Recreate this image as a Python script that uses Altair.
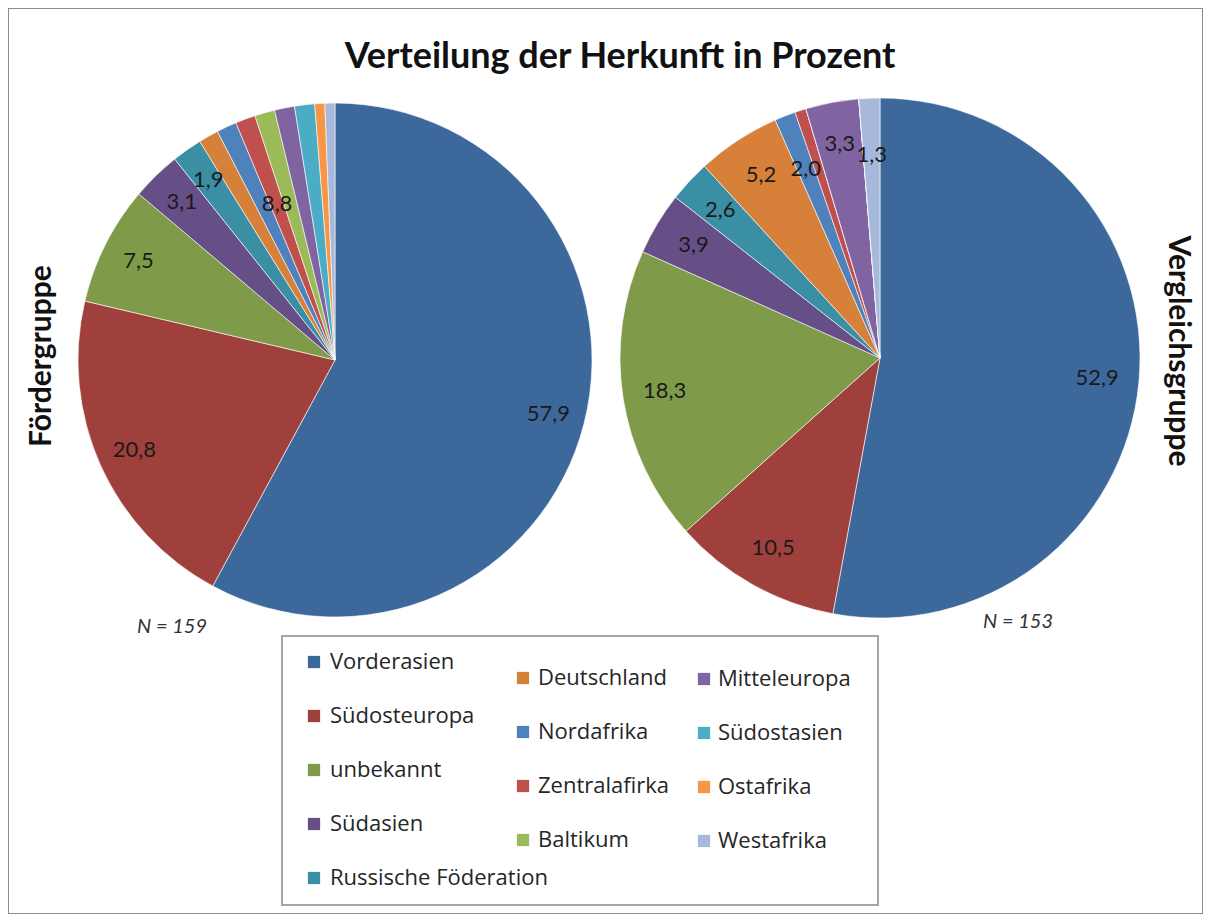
import altair as alt
import pandas as pd

# ---------------- data ----------------
categories = [
    "Vorderasien", "Südosteuropa", "unbekannt", "Südasien", "Russische Föderation",
    "Deutschland", "Nordafrika", "Zentralafirka", "Baltikum", "Mitteleuropa",
    "Südostasien", "Ostafrika", "Westafrika",
]
colors = [
    "#3D689B", "#A0403D", "#7F9A48", "#664F86", "#3A8FA5",
    "#D6803A", "#4F81BD", "#C0504D", "#9BBB59", "#8064A2",
    "#4BACC6", "#F79646", "#A7B9DA",
]

foerder_values = [57.9, 20.8, 7.5, 3.1, 1.9, 1.26, 1.26, 1.26, 1.26, 1.26, 1.26, 0.63, 0.63]
foerder_labels = ["57,9", "20,8", "7,5", "3,1", "1,9", "", "", "", "", "", "", "", ""]
foerder_inner_labels = ["", "", "", "", "", "", "", "8,8", "", "", "", "", ""]

vergleich_values = [52.9, 10.5, 18.3, 3.9, 2.6, 5.2, 1.3, 0.7, 0.0, 3.3, 0.0, 0.0, 1.3]
vergleich_labels = ["52,9", "10,5", "18,3", "3,9", "2,6", "5,2", "", "", "", "3,3", "", "", ""]
vergleich_inner_labels = ["", "", "", "", "", "", "2,0", "", "", "", "", "", "1,3"]

title_text = "Verteilung der Herkunft in Prozent"
group_names = ["Fördergruppe", "Vergleichsgruppe"]
n_texts = ["N = 159", "N = 153"]
legend_columns = [5, 4, 4]  # number of legend entries per column

FONT = "Lato"
LEG_FONT = "Open Sans"
W, H = 1195, 906

color_scale = alt.Scale(domain=categories, range=colors)


def pie(values, labels, inner_labels, cx, cy, r, r_label, r_inner):
    df = pd.DataFrame({
        "Herkunft": categories,
        "Wert": values,
        "Label": labels,
        "Inner": inner_labels,
        "idx": list(range(len(categories))),
    })
    base = alt.Chart(df).encode(
        theta=alt.Theta("Wert:Q", stack="normalize"),
        order=alt.Order("idx:Q", sort="ascending"),
        x=alt.value(cx),
        y=alt.value(cy),
    )
    arc = base.mark_arc(radius=r, stroke="white", strokeWidth=0.6).encode(
        color=alt.Color("Herkunft:N", scale=color_scale, legend=None)
    )
    txt = base.mark_text(radius=r_label, fontSize=22, font=FONT, color="#1a1a1a").encode(
        text="Label:N"
    )
    txt2 = base.mark_text(radius=r_inner, fontSize=22, font=FONT, color="#1a1a1a").encode(
        text="Inner:N"
    )
    return [arc, txt, txt2]


left = pie(foerder_values, foerder_labels, foerder_inner_labels, 327, 352, 257, 220, 166)
right = pie(vergleich_values, vergleich_labels, vergleich_inner_labels, 872, 350, 260, 218, 203)

# title
title = alt.Chart(pd.DataFrame({"t": [title_text]})).mark_text(
    fontSize=36, fontWeight="bold", font=FONT, color="#111"
).encode(text="t:N", x=alt.value(612), y=alt.value(49))

# group labels
g1 = alt.Chart(pd.DataFrame({"t": [group_names[0]]})).mark_text(
    fontSize=30, fontWeight="bold", font=FONT, angle=270, color="#111"
).encode(text="t:N", x=alt.value(34), y=alt.value(348))
g2 = alt.Chart(pd.DataFrame({"t": [group_names[1]]})).mark_text(
    fontSize=30, fontWeight="bold", font=FONT, angle=90, color="#111"
).encode(text="t:N", x=alt.value(1170), y=alt.value(343))

# N labels
n1 = alt.Chart(pd.DataFrame({"t": [n_texts[0]]})).mark_text(
    fontSize=20, fontStyle="italic", font=FONT, color="#333"
).encode(text="t:N", x=alt.value(164), y=alt.value(619))
n2 = alt.Chart(pd.DataFrame({"t": [n_texts[1]]})).mark_text(
    fontSize=20, fontStyle="italic", font=FONT, color="#333"
).encode(text="t:N", x=alt.value(1010), y=alt.value(614))

# legend box
legend_box = alt.Chart(pd.DataFrame({"a": [0]})).mark_rect(
    fill="white", stroke="#a6a6a6", strokeWidth=2
).encode(x=alt.value(274), x2=alt.value(870), y=alt.value(628), y2=alt.value(897))

# legend entries (layout computed here)
col_sq_x = [306, 515, 696]
col_txt_x = [322, 530, 710]
col_y0 = [654, 670, 671]
row_step = 54
rows = []
k = 0
for c, n in enumerate(legend_columns):
    for r_i in range(n):
        rows.append({
            "Herkunft": categories[k],
            "sx": col_sq_x[c],
            "tx": col_txt_x[c],
            "ly": col_y0[c] + r_i * row_step,
        })
        k += 1
leg_df = pd.DataFrame(rows)
leg_sq = alt.Chart(leg_df).mark_square(size=150, opacity=1, filled=True).encode(
    x=alt.X("sx:Q", scale=None),
    y=alt.Y("ly:Q", scale=None),
    color=alt.Color("Herkunft:N", scale=color_scale, legend=None),
)
leg_txt = alt.Chart(leg_df).mark_text(
    align="left", baseline="middle", fontSize=22, font=LEG_FONT, color="#262626"
).encode(
    x=alt.X("tx:Q", scale=None),
    y=alt.Y("ly:Q", scale=None),
    text="Herkunft:N",
)

chart = alt.layer(
    *left, *right, title, g1, g2, n1, n2, legend_box, leg_sq, leg_txt
).properties(
    width=W, height=H, autosize=alt.AutoSizeParams(type="none"), padding=0
).configure_view(
    stroke="#8c8c8c", strokeWidth=2
)

chart.save("out.html", embed_options={"renderer": "svg", "actions": False})
